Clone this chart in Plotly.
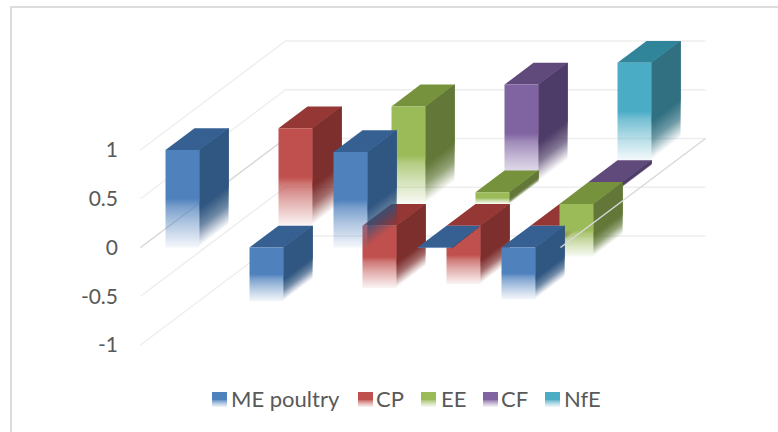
import plotly.graph_objects as go

# Correlation-style table: one row of bars per series, upper triangle only.
categories = ["ME poultry", "CP", "EE", "CF", "NfE"]
me_poultry = [1.0, -0.55, 0.98, -0.01, -0.53]
cp = [None, 1.0, -0.64, -0.6, -0.15]
ee = [None, None, 1.0, 0.12, -0.54]
cf = [None, None, None, 1.0, -0.05]
nfe = [None, None, None, None, 1.0]
series_values = [me_poultry, cp, ee, cf, nfe]
tick_values = [-1, -0.5, 0, 0.5, 1]
tick_labels = ["-1", "-0.5", "0", "0.5", "1"]

front_rgb = [(79, 129, 189), (192, 80, 77), (155, 187, 89), (128, 100, 162), (75, 172, 198)]
side_rgb = [(48, 86, 130), (125, 47, 45), (99, 120, 56), (78, 60, 104), (48, 112, 128)]
top_rgb = [(54, 96, 146), (149, 55, 53), (118, 146, 60), (96, 74, 123), (49, 133, 155)]

# Oblique projection: one step of depth shifts a point right and up.
PX_PER_CAT, PX_PER_UNIT = 84.0, 97.5
DEPTH_X, DEPTH_Y = 29.0 / PX_PER_CAT, 21.8 / PX_PER_UNIT
BAR_W = 34.0 / PX_PER_CAT
W, H = 778, 432
ML, MR, MT, MB = 140, 20, 10, 10
Y0_PX = 247.5
X0_PX = 140.5

FRONT_STOPS = [(0, 1.0), (0.5, 1.0), (0.58, 0.76), (0.75, 0.45), (1.0, 0.06)]
SIDE_STOPS = [(0, 1.0), (0.6, 1.0), (0.8, 0.68), (1.0, 0.0)]


def alpha_at(t, stops):
    """Opacity of a face at fraction t of its height, measured from the top."""
    for (t0, a0), (t1, a1) in zip(stops, stops[1:]):
        if t <= t1:
            return a0 + (a1 - a0) * (t - t0) / (t1 - t0)
    return stops[-1][1]


def project(cat, depth, value):
    return cat + depth * DEPTH_X, value + depth * DEPTH_Y


def rgba(rgb, a=1.0):
    return f"rgba({rgb[0]},{rgb[1]},{rgb[2]},{a:.4f})"


def polygon(points, **style):
    xs = [p[0] for p in points] + [points[0][0]]
    ys = [p[1] for p in points] + [points[0][1]]
    return go.Scatter(x=xs, y=ys, mode="lines", fill="toself", line=dict(width=0),
                      hoverinfo="skip", showlegend=False, **style)


def line(points, color, width):
    return go.Scatter(x=[p[0] for p in points], y=[p[1] for p in points], mode="lines",
                      line=dict(color=color, width=width), hoverinfo="skip", showlegend=False)


fig = go.Figure()
n = len(categories)

# Gridlines along the left wall and the back wall, then the floor's left edge.
for v in tick_values:
    fig.add_trace(line([project(0, 0, v), project(0, n, v), project(n, n, v)], "#eeeeee", 1.5))
fig.add_trace(line([project(0, 0, 0), project(0, n, 0)], "#d9d9d9", 1.5))

# Back row first; the CP bar of the last category goes beneath the EE bar beside it.
order = [(d, c) for d in range(n - 1, -1, -1) for c in range(n)
         if series_values[d][c] is not None]
order.remove((1, 4))
order.insert(order.index((2, 4)), (1, 4))

GRAD_STEPS = 24
for depth, cat in order:
    value = series_values[depth][cat]
    top_v, bot_v = max(value, 0), min(value, 0)
    h = top_v - bot_v
    xl = cat + (1 - BAR_W) / 2
    xr = xl + BAR_W

    # Side face: nested layers build a fade that follows the slanted edge.
    levels = [0.6 + 0.4 * i / GRAD_STEPS for i in range(GRAD_STEPS + 1)]
    for i in range(GRAD_STEPS, -1, -1):
        t = levels[i]
        outer = alpha_at(t, SIDE_STOPS)
        inner = alpha_at(levels[i + 1], SIDE_STOPS) if i < GRAD_STEPS else 0.0
        a = 1 - (1 - outer) / (1 - inner)
        v = top_v - t * h
        fig.add_trace(polygon([project(xr, depth, top_v), project(xr, depth + 1, top_v),
                               project(xr, depth + 1, v), project(xr, depth, v)],
                              fillcolor=rgba(side_rgb[depth], a)))

    fig.add_trace(polygon([project(xl, depth, top_v), project(xr, depth, top_v),
                           project(xr, depth + 1, top_v), project(xl, depth + 1, top_v)],
                          fillcolor=rgba(top_rgb[depth])))

    y_top = project(xl, depth, top_v)[1]
    y_bot = project(xl, depth, bot_v)[1]
    fade = [[s, rgba(front_rgb[depth], a)] for s, a in FRONT_STOPS]
    fig.add_trace(polygon([project(xl, depth, top_v), project(xr, depth, top_v),
                           project(xr, depth, bot_v), project(xl, depth, bot_v)],
                          fillgradient=dict(type="vertical", colorscale=fade,
                                            start=y_top, stop=y_bot)))

# The floor's right edge runs over the bars that hang below it.
fig.add_trace(line([project(n, 0, 0), project(n, n, 0)], "#d9d9d9", 1.5))

# Key below the chart: small faded swatches with their names.
to_x = lambda px: (px - X0_PX) / PX_PER_CAT
to_y = lambda py: (Y0_PX - py) / PX_PER_UNIT
swatch_px = [212, 358, 421, 483, 545]
text_px = [229, 374, 439, 499, 562]
for i, name in enumerate(categories):
    sx, sy = swatch_px[i], 392
    fade = [[s, rgba(front_rgb[i], a)] for s, a in FRONT_STOPS]
    fig.add_trace(polygon([(to_x(sx), to_y(sy)), (to_x(sx + 15), to_y(sy)),
                           (to_x(sx + 15), to_y(sy + 15)), (to_x(sx), to_y(sy + 15))],
                          fillgradient=dict(type="vertical", colorscale=fade,
                                            start=to_y(sy), stop=to_y(sy + 15))))
    fig.add_annotation(x=to_x(text_px[i]), y=to_y(398), text=name, showarrow=False,
                       xanchor="left", yanchor="middle",
                       font=dict(family="Lato", size=22, color="#595959"))

# Chart frame: its right and bottom edges run past the page.
plot_w, plot_h = W - ML - MR, H - MT - MB
frame = dict(x0=(11 - ML) / plot_w, x1=(W + 20 - ML) / plot_w,
             y0=(H - MB - (H + 20)) / plot_h, y1=(H - MB - 7) / plot_h)
fig.add_shape(type="rect", xref="paper", yref="paper", line=dict(color="#dddddd", width=2), **frame)

fig.update_layout(
    width=W, height=H, margin=dict(l=ML, r=MR, t=MT, b=MB),
    paper_bgcolor="white", plot_bgcolor="white", showlegend=False,
    xaxis=dict(range=[to_x(ML), to_x(W - MR)], visible=False, fixedrange=True),
    yaxis=dict(range=[to_y(H - MB), to_y(MT)], tickmode="array", tickvals=tick_values,
               ticktext=tick_labels, showgrid=False, zeroline=False, showline=False,
               ticks="", ticklabelstandoff=21, fixedrange=True,
               tickfont=dict(family="Lato", size=21, color="#595959")),
)
fig.write_html("out.html")
